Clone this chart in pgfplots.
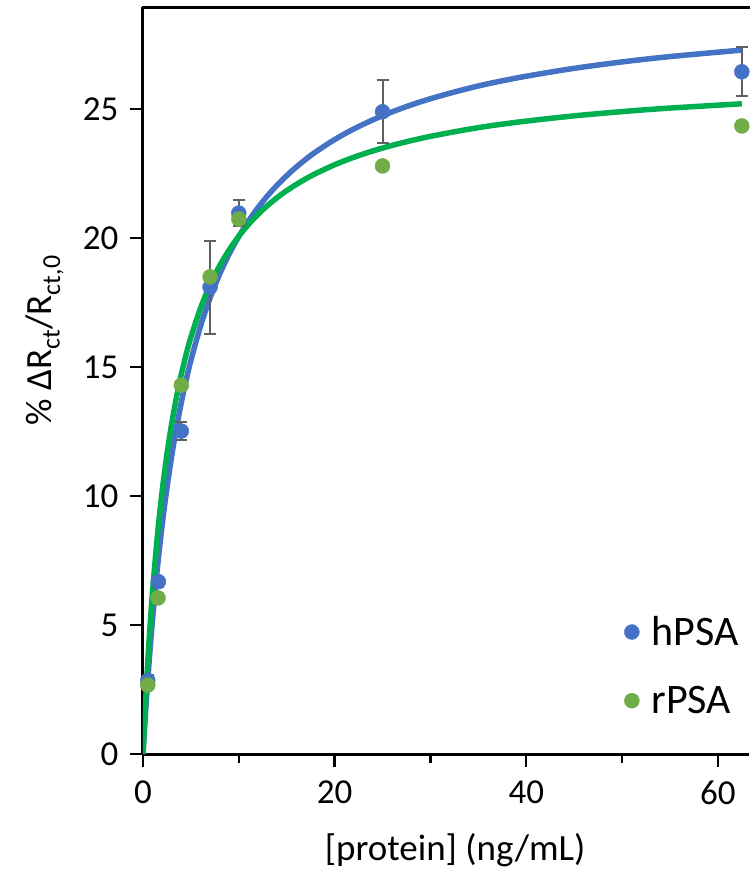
\documentclass[border=0pt]{standalone}
\usepackage{pgfplots}
\pgfplotsset{compat=1.18}
\usepackage{fontspec}
\setmainfont{Carlito}
\definecolor{hblue}{HTML}{4472C4}
\definecolor{rgreen}{HTML}{70AD47}
\definecolor{lgreen}{HTML}{00B050}
\definecolor{ebar}{HTML}{606060}

\pgfplotstableread{
x y e
0.5 2.85 0.2
1.6 6.68 0.2
4 12.52 0.35
7 18.1 1.8
10 20.97 0.5
25 24.9 1.23
62.5 26.45 0.95
}\hdata
\pgfplotstableread{
x y
0.5 2.67
1.57 6.05
4 14.3
7 18.5
10 20.74
25 22.8
62.5 24.35
}\rdata
\pgfplotstableread{
x y
0 0
0.25 1.510
0.5 2.873
0.75 4.107
1 5.232
1.5 7.205
2 8.879
2.5 10.317
3 11.566
3.5 12.660
4 13.628
4.5 14.489
5 15.260
6 16.585
7 17.681
8 18.603
9 19.390
10 20.068
11 20.660
12 21.181
13 21.642
14 22.054
15 22.423
16 22.757
17 23.060
18 23.336
20 23.821
22 24.233
24 24.587
26 24.895
28 25.166
30 25.405
33 25.715
36 25.985
40 26.278
45 26.583
50 26.832
55 27.039
62.5 27.291
}\hfit
\pgfplotstableread{
x y
0 0
0.25 1.920
0.5 3.581
0.75 5.032
1 6.310
1.5 8.457
2 10.192
2.5 11.623
3 12.823
3.5 13.843
4 14.722
4.5 15.487
5 16.159
6 17.283
7 18.186
8 18.929
9 19.549
10 20.076
11 20.528
12 20.921
13 21.265
14 21.570
15 21.841
16 22.083
17 22.302
18 22.500
20 22.845
22 23.135
24 23.382
26 23.596
28 23.782
30 23.946
33 24.157
36 24.342
40 24.537
45 24.741
50 24.906
55 25.043
62.5 25.209
}\rfit

\begin{document}
\begin{tikzpicture}
\begin{axis}[
  name=A,
  scale only axis, width=606pt, height=746.7pt,
  xmin=0, xmax=63.25, ymin=0, ymax=28.95,
  axis x line*=bottom, axis y line*=left,
  axis line style={line width=3pt, -},
  xtick={0,20,40,60}, minor xtick={10,30,50},
  ytick={0,5,10,15,20,25},
  tick align=outside,
  major tick length=13pt, minor tick length=9pt,
  major tick style={line width=2.5pt, black},
  minor tick style={line width=2.5pt, black},
  tick label style={font=\fontsize{35}{40}\selectfont},
  /pgf/number format/assume math mode=true,
  xticklabel style={yshift=-10pt},
  yticklabel style={xshift=-8pt},
  xlabel={[protein] (ng/mL)},
  xlabel style={font=\fontsize{37}{42}\selectfont, at={(axis description cs:0.515,-0.1286)}, anchor=center},
  ylabel={\%~ΔR\textsubscript{ct}/R\textsubscript{ct,0}},
  ylabel style={font=\fontsize{37}{42}\selectfont, at={(axis description cs:-0.162,0.554)}, anchor=center},
  legend style={draw=none, fill=none, at={(axis description cs:0.794,0.118)}, anchor=west,
    font=\fontsize{42}{46}\selectfont, row sep=35pt, column sep=10pt, inner sep=0pt,
    cells={anchor=west}},
  legend image code/.code={\draw[#1] plot coordinates {(7pt,0pt)};},
]
\addplot[hblue, line width=5.5pt, smooth, forget plot] table[x=x,y=y]{\hfit};
\addplot[lgreen, line width=5.5pt, smooth, forget plot] table[x=x,y=y]{\rfit};
\addplot[only marks, mark=*, mark size=7.5pt, mark options={fill=hblue, draw=hblue},
  error bars/.cd, y dir=both, y explicit,
  error bar style={ebar, line width=2pt},
  error mark options={ebar, line width=2pt, mark size=6pt, rotate=90}]
  table[x=x,y=y,y error=e]{\hdata};
\addlegendentry{hPSA}
\addplot[only marks, mark=*, mark size=7.5pt, mark options={fill=rgreen, draw=rgreen}]
  table[x=x,y=y]{\rdata};
\addlegendentry{rPSA}
\end{axis}
\draw[line width=3pt, line cap=rect] (A.north west) -- ([xshift=20pt]A.north east);
\pgfresetboundingbox
\path[use as bounding box] ([shift={(-143pt,-118pt)}]A.south west) rectangle ([shift={(0pt,7.3pt)}]A.north east);
\end{tikzpicture}
\end{document}
